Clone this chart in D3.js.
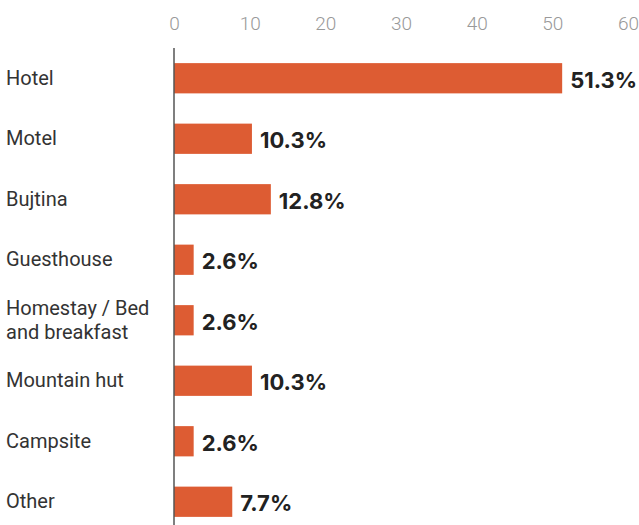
<!DOCTYPE html>
<html>
<head>
<meta charset="utf-8">
<script src="https://cdn.jsdelivr.net/npm/d3@7"></script>
<style>
  html, body { margin: 0; padding: 0; background: #fff; }
  svg { display: block; }
</style>
</head>
<body>
<svg id="chart" width="639" height="525"></svg>
<script>
// Accommodation types and their share of responses (%)
const categories = [
  "Hotel", "Motel", "Bujtina", "Guesthouse",
  "Homestay / Bed and breakfast", "Mountain hut", "Campsite", "Other"
];
const labelLines = [
  ["Hotel"], ["Motel"], ["Bujtina"], ["Guesthouse"],
  ["Homestay / Bed", "and breakfast"], ["Mountain hut"], ["Campsite"], ["Other"]
];
const shares = [51.3, 10.3, 12.8, 2.6, 2.6, 10.3, 2.6, 7.7];
const tickValues = [0, 10, 20, 30, 40, 50, 60];

const svg = d3.select("#chart");
const textFont = "Roboto, 'Noto Sans', sans-serif";
const valueFont = "Inter, 'Open Sans', sans-serif";

const x = d3.scaleLinear().domain([0, 60]).range([174, 628]);
const y = d3.scaleBand()
  .domain(categories)
  .range([48, 532])
  .paddingInner(0.5)
  .paddingOuter(0.25);

// Top axis: tick labels only
const xAxis = d3.axisTop(x).tickValues(tickValues).tickSize(0).tickPadding(0);
const gx = svg.append("g").attr("transform", "translate(0,30)").call(xAxis);
gx.select(".domain").remove();
gx.selectAll("text")
  .attr("font-family", textFont)
  .attr("font-size", 19)
  .attr("font-weight", 300)
  .attr("fill", "#999")
  .attr("dy", 0);

// Bars
svg.append("g").selectAll("rect")
  .data(categories)
  .join("rect")
  .attr("x", x(0))
  .attr("y", d => y(d))
  .attr("width", (d, i) => x(shares[i]) - x(0))
  .attr("height", y.bandwidth())
  .attr("fill", "#dd5c33");

// Baseline
svg.append("line")
  .attr("x1", x(0)).attr("x2", x(0))
  .attr("y1", 48).attr("y2", 525)
  .attr("stroke", "#555").attr("stroke-width", 1.5);

// Category labels
const cat = svg.append("g").selectAll("text")
  .data(categories)
  .join("text")
  .attr("x", 6)
  .attr("y", d => y(d) + y.bandwidth() / 2)
  .attr("font-family", textFont)
  .attr("font-size", 20)
  .attr("fill", "#333");
cat.each(function (d, i) {
  const lines = labelLines[i];
  const t = d3.select(this);
  lines.forEach((ln, j) => {
    t.append("tspan")
      .attr("x", 6)
      .attr("dy", j === 0 ? (lines.length > 1 ? "-0.24em" : "0.33em") : "1.18em")
      .text(ln);
  });
});

// Value labels
svg.append("g").selectAll("text")
  .data(categories)
  .join("text")
  .attr("x", (d, i) => x(shares[i]) + 8)
  .attr("y", d => y(d) + y.bandwidth() / 2)
  .attr("dy", "0.44em")
  .attr("font-family", valueFont)
  .attr("font-size", 22)
  .attr("font-weight", 700)
  .attr("fill", "#222")
  .text((d, i) => shares[i].toFixed(1) + "%");
</script>
</body>
</html>
